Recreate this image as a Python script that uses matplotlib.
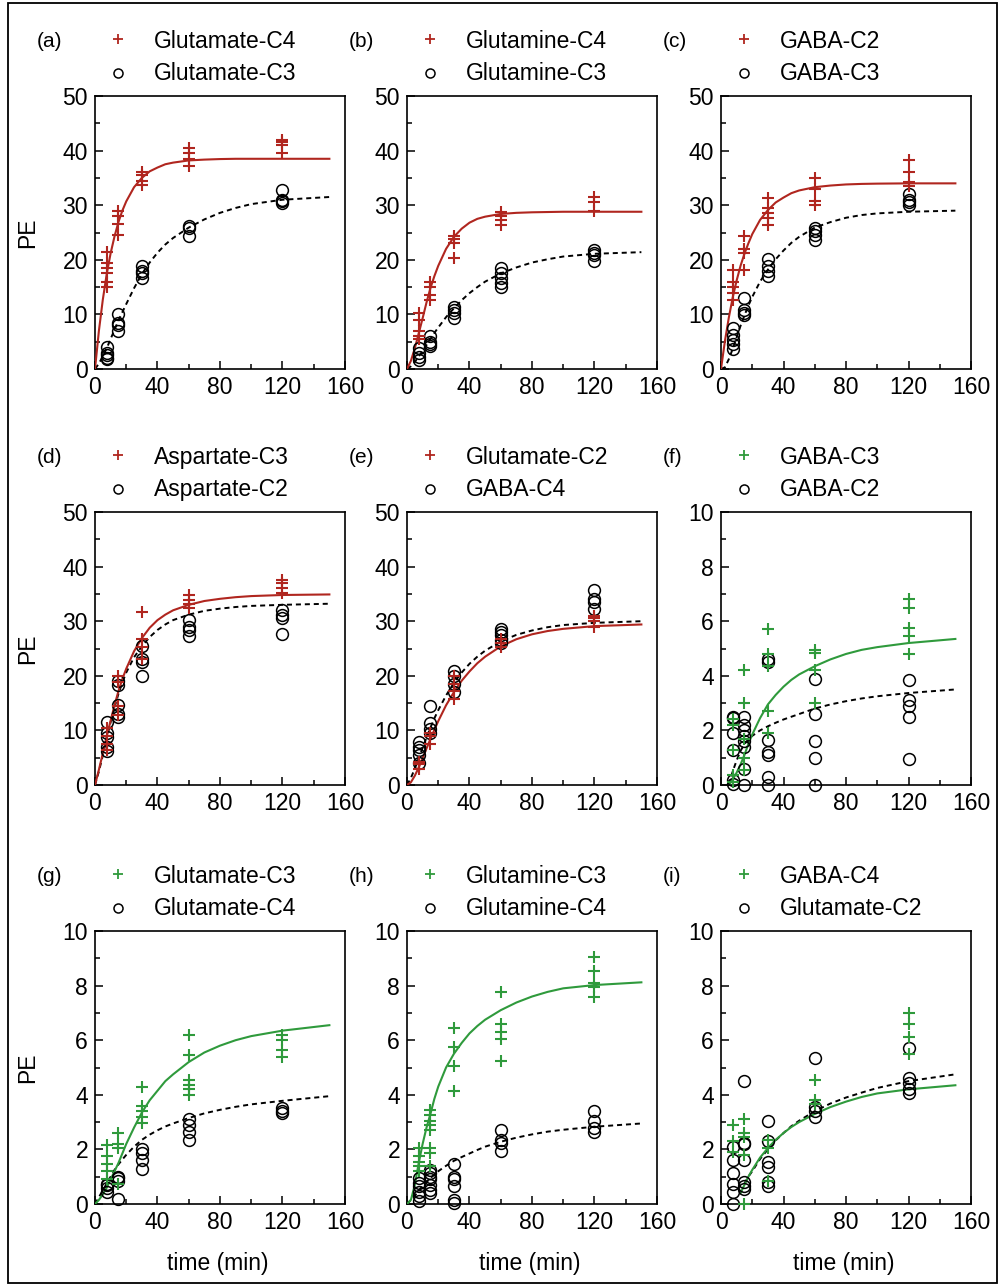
import matplotlib
matplotlib.use("Agg")
import matplotlib.pyplot as plt
from matplotlib.patches import Rectangle
from matplotlib.ticker import MultipleLocator

plt.rcParams['font.family'] = ['Liberation Sans', 'DejaVu Sans']

RED = "#B0261F"
GREEN = "#2F9A3C"

T_OBS = [7.5, 15, 30, 60, 120]
CURVE_T = [0, 2.5, 5, 7.5, 10, 12.5, 15, 17.5, 20, 25, 30, 35, 40, 45, 50, 60, 70, 80, 90, 100, 120, 150]

panel_ids = ["(a)", "(b)", "(c)", "(d)", "(e)", "(f)", "(g)", "(h)", "(i)"]
label_cross = ["Glutamate-C4", "Glutamine-C4", "GABA-C2",
               "Aspartate-C3", "Glutamate-C2", "GABA-C3",
               "Glutamate-C3", "Glutamine-C3", "GABA-C4"]
label_circle = ["Glutamate-C3", "Glutamine-C3", "GABA-C3",
                "Aspartate-C2", "GABA-C4", "GABA-C2",
                "Glutamate-C4", "Glutamine-C4", "Glutamate-C2"]
y_max = [50, 50, 50, 50, 50, 10, 10, 10, 10]

# (a)
a_cross = [[21.5, 19.5, 18.5, 17.5, 16, 15], [29, 28, 26.5, 24.5], [36, 35.5, 34.5, 33.7],
           [40.5, 39.5, 38.5, 37.2], [42, 41.5, 41, 39.5]]
a_circle = [[4, 3, 2.5, 2, 1.8], [10, 8.5, 8, 6.9], [18.8, 18, 17.5, 16.6],
            [26.2, 25.8, 24.4], [32.8, 31, 30.7, 30.4]]
a_fit_cross = [0, 7.0, 12.7, 17.4, 21.2, 24.3, 26.9, 29.0, 30.7, 33.3, 35.0, 36.2, 36.9, 37.5,
               37.8, 38.2, 38.35, 38.45, 38.5, 38.5, 38.5, 38.5]
a_fit_circle = [0, 1.0, 2.3, 3.8, 5.5, 7.2, 8.9, 10.4, 11.9, 14.8, 17.4, 19.5, 21.3, 22.8,
                24.0, 25.9, 27.4, 28.6, 29.5, 30.2, 31.0, 31.5]

# (b)
b_cross = [[10.2, 9, 7, 6, 5.5], [16, 15, 13.5, 12.7], [24.4, 23.8, 23, 20.3],
           [28.8, 28, 27.2, 26.4], [31.5, 30.5, 29]]
b_circle = [[3.8, 2.9, 2.2, 1.7], [6, 5, 4.5, 4.2], [11.4, 10.8, 10.2, 9.3],
            [18.5, 17.5, 16.6, 15.7, 15], [21.8, 21.2, 20.8, 19.7]]
b_fit_cross = [0, 1.5, 3.8, 6.5, 9.3, 12.2, 14.8, 17.0, 18.9, 22.0, 24.2, 25.7, 26.8, 27.5,
               27.9, 28.4, 28.6, 28.7, 28.75, 28.8, 28.8, 28.8]
b_fit_circle = [0, 0.5, 1.3, 2.3, 3.3, 4.4, 5.5, 6.6, 7.6, 9.5, 11.1, 12.6, 13.9, 15.0,
                16.0, 17.5, 18.6, 19.5, 20.1, 20.6, 21.1, 21.4]

# (c)
c_cross = [[18.2, 16, 15, 14, 12.7], [24.3, 22, 21.2, 18.2], [31.3, 29.4, 28.5, 27.6, 26.4],
           [35, 33, 30.7, 30], [38.2, 36, 34.3, 33.5]]
c_circle = [[7.6, 6.2, 5.4, 4.5, 3.6], [13, 10.8, 10.2, 9.8], [20.2, 18.8, 17.9, 17],
            [25.8, 25.2, 24.6, 23.7], [32, 31, 30.5, 30.1]]
c_fit_cross = [0, 5.1, 9.4, 13.1, 16.2, 18.9, 21.1, 23.0, 24.7, 27.3, 29.1, 30.5, 31.4, 32.2,
               32.7, 33.3, 33.6, 33.8, 33.9, 33.95, 34.0, 34.0]
c_fit_circle = [0, 0.3, 1.8, 3.7, 5.8, 7.9, 9.8, 11.6, 13.2, 16.0, 18.2, 20.1, 21.7, 23.1,
                24.2, 25.9, 26.9, 27.7, 28.2, 28.5, 28.8, 29.0]

# (d)
d_cross = [[10.5, 9, 7.5, 6.5], [20, 18.8, 14.5, 12.8], [31.6, 26.8, 25.3, 23],
           [34.8, 33.9, 33.2, 32.4], [37.5, 37, 36, 35.1]]
d_circle = [[11.6, 9.5, 8.8, 7, 6.2], [19, 18.3, 14.7, 13, 12.5], [25.4, 23.1, 22.6, 20],
            [30.3, 28.9, 28.4, 27.2], [32.1, 31.2, 30.5, 27.7]]
d_fit_cross = [0, 2.8, 5.8, 8.9, 11.8, 14.6, 17.2, 19.4, 21.3, 24.5, 26.9, 28.8, 30.2, 31.2,
               32.0, 33.0, 33.7, 34.1, 34.4, 34.6, 34.8, 34.9]
d_fit_circle = [0, 2.5, 5.4, 8.6, 11.5, 14.2, 16.7, 18.8, 20.6, 23.4, 25.4, 27.1, 28.4, 29.4,
                30.2, 31.2, 31.9, 32.3, 32.6, 32.8, 33.0, 33.2]

# (e)
e_cross = [[4.2, 3.8, 3.0], [9.5, 9, 7.6], [20, 18.5, 17.2, 15.8],
           [26.8, 26, 25.2], [31, 30.5, 30, 28.9]]
e_circle = [[7.8, 7, 6.4, 5.5, 4], [14.4, 11.3, 10.2, 9.5], [20.8, 20, 18.5, 17],
            [28.6, 28, 27.4, 26.6, 26], [35.7, 34, 33.5, 32.3]]
e_fit_cross = [0, 0.5, 1.7, 3.2, 4.9, 6.7, 8.4, 10.1, 11.7, 14.6, 17.0, 19.1, 20.8, 22.3,
               23.5, 25.4, 26.7, 27.6, 28.2, 28.6, 29.1, 29.4]
e_fit_circle = [0, 1.3, 3.0, 4.9, 6.8, 8.7, 10.5, 12.2, 13.7, 16.4, 18.7, 20.6, 22.2, 23.5,
                24.6, 26.3, 27.5, 28.3, 28.9, 29.3, 29.7, 30.0]

# (f)
f_cross = [[2.4, 2.2, 1.3, 0.35, 0.1], [4.2, 3.0, 1.7, 1.0, 0.55], [5.7, 4.8, 4.35, 2.7, 1.9],
           [4.95, 4.85, 4.2, 3.0], [6.8, 6.5, 5.75, 5.45, 4.8]]
f_circle = [[2.5, 2.45, 1.9, 1.3, 0.2, 0.05], [2.5, 2.2, 2.0, 1.8, 1.6, 1.4, 0.6, 0.0],
            [4.6, 4.5, 1.65, 1.2, 1.1, 0.3, 0.0], [3.9, 2.6, 1.6, 1.0, 0.0],
            [3.85, 3.1, 2.9, 2.5, 0.95]]
f_fit_t = [5, 7.5, 10, 12.5, 15, 17.5, 20, 25, 30, 35, 40, 45, 50, 60, 70, 80, 90, 100, 120, 150]
f_fit_cross = [0, 0.2, 0.45, 0.75, 1.1, 1.5, 1.85, 2.45, 2.95, 3.3, 3.6, 3.85, 4.05, 4.35,
               4.6, 4.8, 4.95, 5.05, 5.2, 5.35]
f_fit_circle = [0, 0.5, 0.9, 1.25, 1.5, 1.67, 1.8, 2.0, 2.15, 2.28, 2.4, 2.5, 2.6, 2.8,
                2.95, 3.07, 3.17, 3.25, 3.37, 3.5]

# (g)
g_cross = [[2.15, 1.75, 1.45, 1.2, 0.9], [2.6, 2.2, 2.05, 0.75], [4.3, 3.6, 3.4, 3.2, 2.95],
           [6.2, 5.45, 4.55, 4.35, 4.2, 4.0], [6.2, 6.0, 5.65, 5.4]]
g_circle = [[0.75, 0.7, 0.6, 0.45], [1.0, 0.95, 0.85, 0.2], [2.0, 1.85, 1.6, 1.3],
            [3.1, 2.9, 2.65, 2.35], [3.5, 3.42, 3.35]]
g_fit_cross = [0, 0.15, 0.35, 0.6, 0.9, 1.2, 1.5, 1.85, 2.2, 2.8, 3.35, 3.8, 4.15, 4.5,
               4.75, 5.2, 5.55, 5.8, 6.0, 6.15, 6.35, 6.55]
g_fit_circle = [0, 0.25, 0.5, 0.75, 1.0, 1.25, 1.45, 1.63, 1.8, 2.1, 2.35, 2.54, 2.7, 2.84,
                2.95, 3.15, 3.32, 3.45, 3.56, 3.65, 3.78, 3.95]

# (h)
h_cross = [[2.05, 1.75, 1.55, 1.4, 1.2], [3.45, 3.25, 3.05, 2.9, 2.7, 2.05, 1.85, 1.4],
           [6.45, 5.75, 5.05, 4.15], [7.75, 6.6, 6.3, 6.05, 5.25], [9.05, 8.55, 8.1, 7.95, 7.6]]
h_circle = [[0.95, 0.77, 0.65, 0.45, 0.28, 0.1], [1.25, 1.15, 1.0, 0.9, 0.7, 0.5, 0.4],
            [1.45, 1.0, 0.9, 0.65, 0.15, 0.05], [2.7, 2.35, 2.25, 1.95], [3.4, 3.05, 2.8, 2.65]]
h_fit_cross = [0, 0.15, 0.7, 1.5, 2.2, 2.8, 3.3, 3.85, 4.3, 5.0, 5.5, 5.9, 6.25, 6.52,
               6.75, 7.1, 7.38, 7.6, 7.77, 7.9, 8.02, 8.12]
h_fit_circle = [0, 0.15, 0.3, 0.5, 0.65, 0.8, 0.95, 1.08, 1.2, 1.4, 1.58, 1.72, 1.85, 1.98,
                2.1, 2.28, 2.43, 2.55, 2.65, 2.72, 2.83, 2.95]

# (i)
i_cross = [[2.9, 2.3, 1.9], [3.1, 2.6, 2.45, 1.8, 0.0], [2.35, 2.05, 0.85],
           [4.55, 3.8, 3.65], [7.0, 6.6, 6.1, 5.5]]
i_circle = [[2.1, 1.6, 1.15, 0.75, 0.45, 0.0], [4.5, 2.25, 2.2, 1.6, 0.8, 0.65, 0.55],
            [3.05, 2.3, 1.55, 1.35, 0.8, 0.65], [5.35, 3.55, 3.4, 3.2], [5.7, 4.6, 4.45, 4.2, 4.05]]
i_fit_t_cross = [12.5, 15, 17.5, 20, 25, 30, 35, 40, 45, 50, 60, 70, 80, 90, 100, 120, 150]
i_fit_cross = [0.4, 0.7, 1.0, 1.25, 1.7, 2.05, 2.35, 2.6, 2.82, 3.0, 3.3, 3.55, 3.75, 3.92,
               4.05, 4.2, 4.35]
i_fit_t_circle = [15, 17.5, 20, 25, 30, 35, 40, 45, 50, 60, 70, 80, 90, 100, 120, 150]
i_fit_circle = [0.75, 1.0, 1.2, 1.65, 2.0, 2.33, 2.6, 2.85, 3.05, 3.4, 3.68, 3.9, 4.08,
                4.25, 4.5, 4.75]

cross_pts = [a_cross, b_cross, c_cross, d_cross, e_cross, f_cross, g_cross, h_cross, i_cross]
circle_pts = [a_circle, b_circle, c_circle, d_circle, e_circle, f_circle, g_circle, h_circle, i_circle]
fit_cross = [(CURVE_T, a_fit_cross), (CURVE_T, b_fit_cross), (CURVE_T, c_fit_cross),
             (CURVE_T, d_fit_cross), (CURVE_T, e_fit_cross), (f_fit_t, f_fit_cross),
             (CURVE_T, g_fit_cross), (CURVE_T, h_fit_cross), (i_fit_t_cross, i_fit_cross)]
fit_circle = [(CURVE_T, a_fit_circle), (CURVE_T, b_fit_circle), (CURVE_T, c_fit_circle),
              (CURVE_T, d_fit_circle), (CURVE_T, e_fit_circle), (f_fit_t, f_fit_circle),
              (CURVE_T, g_fit_circle), (CURVE_T, h_fit_circle), (i_fit_t_circle, i_fit_circle)]
cross_color = [RED, RED, RED, RED, RED, GREEN, GREEN, GREEN, GREEN]

W, H = 1003, 1286
fig = plt.figure(figsize=(W / 100, H / 100), dpi=100)

ax_left_px = [95, 407, 721]
ax_top_px = [96, 512, 931]
ax_w_px, ax_h_px = 250, 273


def expand(groups):
    xs, ys = [], []
    for t, vals in zip(T_OBS, groups):
        xs += [t] * len(vals)
        ys += vals
    return xs, ys


for k in range(9):
    r, c = divmod(k, 3)
    l = ax_left_px[c] / W
    b = 1 - (ax_top_px[r] + ax_h_px) / H
    ax = fig.add_axes([l, b, ax_w_px / W, ax_h_px / H])

    xc, yc = expand(circle_pts[k])
    xp, yp = expand(cross_pts[k])
    ft, fv = fit_circle[k]
    ax.plot(ft, fv, color="black", lw=1.4, linestyle=(0, (2.6, 2.0)), zorder=2)
    ft, fv = fit_cross[k]
    ax.plot(ft, fv, color=cross_color[k], lw=1.5, zorder=3)
    ax.plot(xc, yc, linestyle="none", marker="o", ms=8.5, mfc="none", mec="black",
            mew=1.1, clip_on=False, zorder=4)
    ax.plot(xp, yp, linestyle="none", marker="+", ms=8, mec=cross_color[k],
            mew=1.5, clip_on=False, zorder=5)

    ax.set_xlim(0, 160)
    ax.set_ylim(0, y_max[k])
    ax.xaxis.set_major_locator(MultipleLocator(40))
    ax.xaxis.set_minor_locator(MultipleLocator(20))
    ax.yaxis.set_major_locator(MultipleLocator(y_max[k] / 5))
    ax.yaxis.set_minor_locator(MultipleLocator(y_max[k] / 10))
    ax.tick_params(which="both", direction="in", labelsize=16.5, width=1.1, pad=5)
    ax.tick_params(which="major", length=6)
    ax.tick_params(which="minor", length=3.5)
    for s in ax.spines.values():
        s.set_linewidth(1.2)

    if c == 0:
        ax.set_ylabel("PE", fontsize=16.5)
        ax.yaxis.set_label_coords(-0.224, 0.5)
    if r == 2:
        ax.set_xlabel("time (min)", fontsize=16.5)
        ax.xaxis.set_label_coords(0.49, -0.176)

    # panel id and key
    ax.text(-0.232, 1.200, panel_ids[k], transform=ax.transAxes, fontsize=15,
            ha="left", va="center")
    ax.plot([0.092], [1.208], transform=ax.transAxes, marker="+", ms=7,
            mec=cross_color[k], mew=1.3, linestyle="none", clip_on=False)
    ax.plot([0.092], [1.086], transform=ax.transAxes, marker="o", ms=6.5,
            mfc="none", mec="black", mew=1.1, linestyle="none", clip_on=False)
    ax.text(0.235, 1.200, label_cross[k], transform=ax.transAxes, fontsize=16.5,
            ha="left", va="center")
    ax.text(0.235, 1.082, label_circle[k], transform=ax.transAxes, fontsize=16.5,
            ha="left", va="center")

# outer frame
fig.patches.append(Rectangle((8 / W, 3 / H), (997 - 8) / W, (1283 - 3) / H,
                             transform=fig.transFigure, fill=False,
                             edgecolor="black", lw=1.3))

fig.savefig("out.png", dpi=100)
